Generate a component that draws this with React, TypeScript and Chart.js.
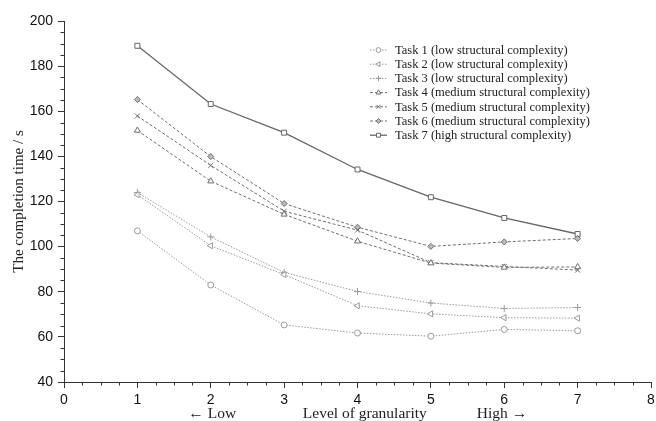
import React, { useEffect, useRef } from 'react';
import { Chart, registerables } from 'chart.js';
import { drawPoint } from 'chart.js/helpers';

Chart.register(...registerables);

// ---- data ----
const levels = [1, 2, 3, 4, 5, 6, 7];
const task1 = [107, 83, 65.3, 61.7, 60.3, 63.3, 62.7];
const task2 = [123, 100.4, 87.6, 73.8, 70.2, 68.5, 68.3];
const task3 = [124, 104.3, 88.6, 80.1, 75, 72.6, 73];
const task4 = [151.5, 129, 114.3, 102.4, 92.7, 90.8, 91];
const task5 = [157.9, 136, 115.7, 107.3, 92.9, 91.2, 89.6];
const task6 = [165.2, 139.9, 119.1, 108.6, 100.1, 102.1, 103.6];
const task7 = [189, 163.2, 150.5, 134.2, 121.9, 112.7, 105.6];
const seriesNames = [
  'Task 1 (low structural complexity)',
  'Task 2 (low structural complexity)',
  'Task 3 (low structural complexity)',
  'Task 4 (medium structural complexity)',
  'Task 5 (medium structural complexity)',
  'Task 6 (medium structural complexity)',
  'Task 7 (high structural complexity)',
];
const seriesValues = [task1, task2, task3, task4, task5, task6, task7];
const xMin = 0;
const xMax = 8;
const yMin = 40;
const yMax = 200;
const xMajorStep = 1;
const xMinorStep = 0.25;
const yMajorStep = 20;
const yMinorStep = 5;
const xLabelLow = '← Low';
const xLabelHigh = 'High →';
const xTitle = 'Level of granularity';
const yTitle = 'The completion time / s';

// ---- styles ----
const styles = [
  { color: '#9a9a9a', dash: [1.5, 1.5], width: 1, point: 'circle', rot: 0, r: 3, fill: '#fff' },
  { color: '#9a9a9a', dash: [1.5, 1.5], width: 1, point: 'triangle', rot: -90, r: 3.5, fill: '#fff' },
  { color: '#9a9a9a', dash: [1.5, 1.5], width: 1, point: 'cross', rot: 0, r: 3.5, fill: '#fff' },
  { color: '#6e6e6e', dash: [3, 2], width: 1, point: 'triangle', rot: 0, r: 3.5, fill: '#fff' },
  { color: '#6e6e6e', dash: [3, 2], width: 1, point: 'crossRot', rot: 0, r: 3.5, fill: '#fff' },
  { color: '#6e6e6e', dash: [3, 2], width: 1, point: 'rectRot', rot: 0, r: 3, fill: '#bbb' },
  { color: '#666666', dash: [], width: 1.3, point: 'rect', rot: 0, r: 3.5, fill: '#fff' },
];

const SERIF = "'Liberation Serif', 'DejaVu Serif', serif";
const SANS = "'Liberation Sans', Arial, sans-serif";
const AXIS = '#333';
const MINOR_LEN = 3.5;

const isMajor = (v: number, step: number) => Math.abs(v / step - Math.round(v / step)) < 1e-6;

const overlay = {
  id: 'overlay',
  afterDraw(chart: any) {
    const ctx = chart.ctx;
    const xs = chart.scales.x;
    const ys = chart.scales.y;
    const area = chart.chartArea;
    ctx.save();
    // minor ticks
    ctx.strokeStyle = AXIS;
    ctx.lineWidth = 1;
    ctx.beginPath();
    for (let v = xMin; v <= xMax + 1e-9; v += xMinorStep) {
      if (isMajor(v, xMajorStep)) continue;
      const px = Math.round(xs.getPixelForValue(v)) + 0.5;
      ctx.moveTo(px, area.bottom);
      ctx.lineTo(px, area.bottom + MINOR_LEN);
    }
    for (let v = yMin; v <= yMax + 1e-9; v += yMinorStep) {
      if (isMajor(v, yMajorStep)) continue;
      const py = Math.round(ys.getPixelForValue(v)) + 0.5;
      ctx.moveTo(area.left, py);
      ctx.lineTo(area.left - MINOR_LEN, py);
    }
    ctx.stroke();

    // x axis caption row
    ctx.fillStyle = '#222';
    ctx.font = `15.5px ${SERIF}`;
    ctx.textAlign = 'center';
    ctx.textBaseline = 'middle';
    const rowY = 414;
    ctx.fillText(xLabelLow, xs.getPixelForValue(2.02), rowY);
    ctx.fillText(xTitle, xs.getPixelForValue(4.1), rowY);
    ctx.fillText(xLabelHigh, xs.getPixelForValue(5.97), rowY);

    // legend
    const lx = 370;
    const ly = 50;
    const step = 14.2;
    ctx.font = `12.5px ${SERIF}`;
    ctx.textAlign = 'left';
    chart.data.datasets.forEach((ds: any, i: number) => {
      const y = ly + i * step;
      ctx.strokeStyle = ds.borderColor;
      ctx.lineWidth = ds.borderWidth;
      ctx.setLineDash(ds.borderDash || []);
      ctx.beginPath();
      ctx.moveTo(lx, y);
      ctx.lineTo(lx + 17, y);
      ctx.stroke();
      ctx.setLineDash([]);
      ctx.fillStyle = ds.pointBackgroundColor;
      ctx.strokeStyle = ds.borderColor;
      ctx.lineWidth = 1;
      drawPoint(ctx, { pointStyle: ds.pointStyle, rotation: ds.pointRotation, radius: ds.pointRadius * 0.8, borderWidth: 1 }, lx + 8.5, y);
      ctx.fillStyle = '#222';
      ctx.fillText(ds.label, lx + 25, y + 0.5);
    });
    ctx.restore();
  },
};

export default function App() {
  const ref = useRef<HTMLCanvasElement | null>(null);
  useEffect(() => {
    if (!ref.current) return;
    const datasets = seriesValues.map((vals, i) => {
      const s = styles[i];
      return {
        label: seriesNames[i],
        data: levels.map((l, j) => ({ x: l, y: vals[j] })),
        borderColor: s.color,
        borderWidth: s.width,
        borderDash: s.dash,
        pointStyle: s.point,
        pointRotation: s.rot,
        pointRadius: s.r,
        pointBorderWidth: 1,
        pointBorderColor: s.color,
        pointBackgroundColor: s.fill,
        fill: false,
        tension: 0,
      };
    });
    const chart = new Chart(ref.current, {
      type: 'line',
      data: { datasets },
      plugins: [overlay],
      options: {
        responsive: false,
        animation: false,
        layout: { padding: { left: 0, top: 21, right: 0, bottom: 0 } },
        plugins: { legend: { display: false }, tooltip: { enabled: false } },
        scales: {
          x: {
            type: 'linear',
            min: xMin,
            max: xMax,
            afterFit: (s: any) => { s.height = 39; s.paddingRight = 4; },
            border: { display: true, color: AXIS, width: 1 },
            grid: { display: true, drawOnChartArea: false, drawTicks: true, tickLength: 6, color: 'rgba(0,0,0,0)', tickColor: AXIS },
            ticks: {
              stepSize: xMajorStep,
              autoSkip: false,
              maxRotation: 0,
              padding: 4,
              color: '#111',
              font: { family: SANS, size: 14 },
            },
          },
          y: {
            type: 'linear',
            min: yMin,
            max: yMax,
            afterFit: (s: any) => { s.width = 64; },
            border: { display: true, color: AXIS, width: 1 },
            grid: { display: true, drawOnChartArea: false, drawTicks: true, tickLength: 6, color: 'rgba(0,0,0,0)', tickColor: AXIS },
            title: {
              display: true,
              text: yTitle,
              color: '#222',
              font: { family: SERIF, size: 15 },
              padding: { top: 10, bottom: 0 },
            },
            ticks: {
              stepSize: yMajorStep,
              autoSkip: false,
              padding: 5,
              color: '#111',
              font: { family: SANS, size: 14 },
            },
          },
        },
      },
    });
    return () => chart.destroy();
  }, []);
  return (
    <div style={{ position: 'fixed', left: 0, top: 0, width: 656, height: 421, background: '#fff' }}>
      <canvas ref={ref} width={656} height={421} style={{ display: 'block' }} />
    </div>
  );
}
